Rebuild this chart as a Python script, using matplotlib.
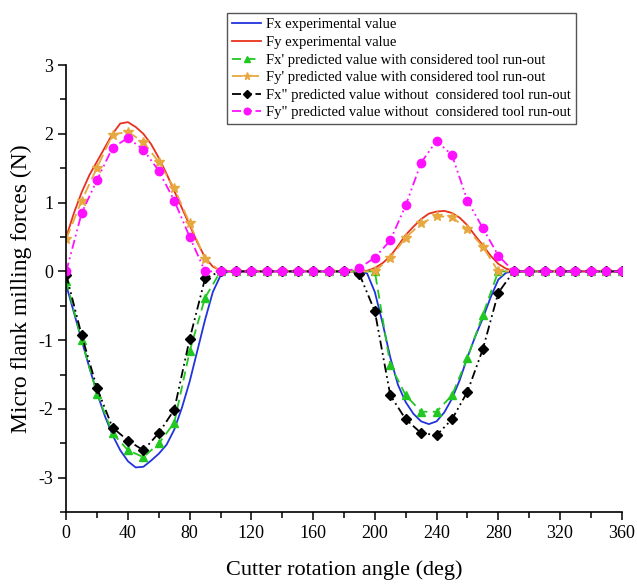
import numpy as np
import matplotlib
matplotlib.use('Agg')
import matplotlib.pyplot as plt
from matplotlib.ticker import MultipleLocator

plt.rcParams['font.family'] = ['Liberation Serif', 'DejaVu Serif']
plt.rcParams['axes.unicode_minus'] = False

# experimental curves, sampled every 5 deg
exp_angle = list(range(0, 365, 5))
fx_exp = [-0.20, -0.60, -1.00, -1.40, -1.77, -2.10, -2.38, -2.60, -2.76, -2.85,
          -2.84, -2.75, -2.65, -2.52, -2.30, -1.98, -1.60, -1.15, -0.70, -0.30,
          -0.06, 0, 0, 0, 0, 0, 0, 0, 0, 0,
          0, 0, 0, 0, 0, 0, 0, 0, 0, -0.03,
          -0.30, -0.75, -1.25, -1.65, -1.90, -2.07, -2.18, -2.22, -2.18, -2.05,
          -1.85, -1.58, -1.25, -0.95, -0.68, -0.38, -0.12, -0.02, 0, 0,
          0, 0, 0, 0, 0, 0, 0, 0, 0, 0,
          0, 0, 0]
fy_exp = [0.50, 0.85, 1.15, 1.40, 1.60, 1.80, 2.00, 2.15, 2.17, 2.10,
          2.00, 1.85, 1.65, 1.42, 1.17, 0.92, 0.67, 0.42, 0.20, 0.07,
          0.01, 0, 0, 0, 0, 0, 0, 0, 0, 0,
          0, 0, 0, 0, 0, 0, 0, 0, 0, 0.01,
          0.05, 0.12, 0.22, 0.37, 0.53, 0.65, 0.76, 0.84, 0.87, 0.88,
          0.85, 0.78, 0.67, 0.52, 0.38, 0.23, 0.11, 0.04, 0.01, 0,
          0, 0, 0, 0, 0, 0, 0, 0, 0, 0,
          0, 0, 0]

# predicted curves, sampled every 10 deg
pred_angle = list(range(0, 370, 10))
fx_run = [-0.14, -1.00, -1.78, -2.35, -2.60, -2.70, -2.50, -2.20, -1.16, -0.38,
          0, 0, 0, 0, 0, 0, 0, 0, 0, 0,
          0, -1.36, -1.80, -2.04, -2.04, -1.80, -1.26, -0.63, 0, 0,
          0, 0, 0, 0, 0, 0, 0]
fy_run = [0.47, 1.03, 1.51, 1.99, 2.03, 1.88, 1.59, 1.21, 0.70, 0.18,
          0, 0, 0, 0, 0, 0, 0, 0, 0, 0,
          0, 0.20, 0.49, 0.70, 0.80, 0.79, 0.61, 0.36, 0, 0,
          0, 0, 0, 0, 0, 0, 0]
fx_norun = [-0.05, -0.93, -1.70, -2.27, -2.46, -2.60, -2.35, -2.01, -0.98, -0.10,
            0, 0, 0, 0, 0, 0, 0, 0, 0, -0.04,
            -0.58, -1.80, -2.15, -2.35, -2.38, -2.15, -1.75, -1.13, -0.31, 0,
            0, 0, 0, 0, 0, 0, 0]
fy_norun = [0, 0.85, 1.33, 1.80, 1.94, 1.77, 1.46, 1.03, 0.50, 0,
            0, 0, 0, 0, 0, 0, 0, 0, 0, 0.05,
            0.20, 0.45, 0.96, 1.58, 1.90, 1.69, 1.03, 0.63, 0.23, 0,
            0, 0, 0, 0, 0, 0, 0]

fig = plt.figure(figsize=(6.37, 5.86), dpi=100)
ax = fig.add_axes([0.104, 0.126, 0.872, 0.763])

ax.plot(exp_angle, fx_exp, color='#2233dd', lw=1.3, label='Fx experimental value')
ax.plot(exp_angle, fy_exp, color='#e8301e', lw=1.3, label='Fy experimental value')
ax.plot(pred_angle, fx_run, color='#22c822', lw=1.3, ls=(0, (5, 3)),
        marker='^', ms=6, label="Fx' predicted value with considered tool run-out")
ax.plot(pred_angle, fy_run, color='#e8a840', lw=1.3, ls=(0, (6, 3)),
        marker='*', ms=7, label="Fy' predicted value with considered tool run-out")
ax.plot(pred_angle, fx_norun, color='black', lw=1.3, ls=(0, (5, 2, 1, 2, 1, 2)),
        marker='D', ms=5, label='Fx" predicted value without  considered tool run-out')
ax.plot(pred_angle, fy_norun, color='#ff10ff', lw=1.3, ls=(0, (5, 2, 1, 2, 1, 2)),
        marker='o', ms=6, label='Fy" predicted value without  considered tool run-out')

ax.set_xlim(0, 360)
ax.set_ylim(-3.5, 3)
ax.xaxis.set_major_locator(MultipleLocator(40))
ax.xaxis.set_minor_locator(MultipleLocator(20))
ax.yaxis.set_major_locator(MultipleLocator(1))
ax.yaxis.set_minor_locator(MultipleLocator(0.5))
ax.tick_params(which='major', length=6, width=1.1, labelsize=13, direction='out')
ax.tick_params(which='minor', length=4, width=1.1, direction='out')
for s in ['top', 'right']:
    ax.spines[s].set_visible(False)
for s in ['left', 'bottom']:
    ax.spines[s].set_linewidth(1.2)

ax.set_xlabel('Cutter rotation angle (deg)', fontsize=16, labelpad=13)
ax.set_ylabel('Micro flank milling forces (N)', fontsize=17, labelpad=4)

leg = fig.legend(loc='upper left', bbox_to_anchor=(0.345, 0.99), fontsize=10.5,
                 handlelength=2.0, labelspacing=0.3, borderpad=0.35, handletextpad=0.3,
                 fancybox=False, framealpha=1, edgecolor='#555555', markerscale=0.8)
leg.get_frame().set_linewidth(1.0)

fig.savefig('out.png', dpi=100)
